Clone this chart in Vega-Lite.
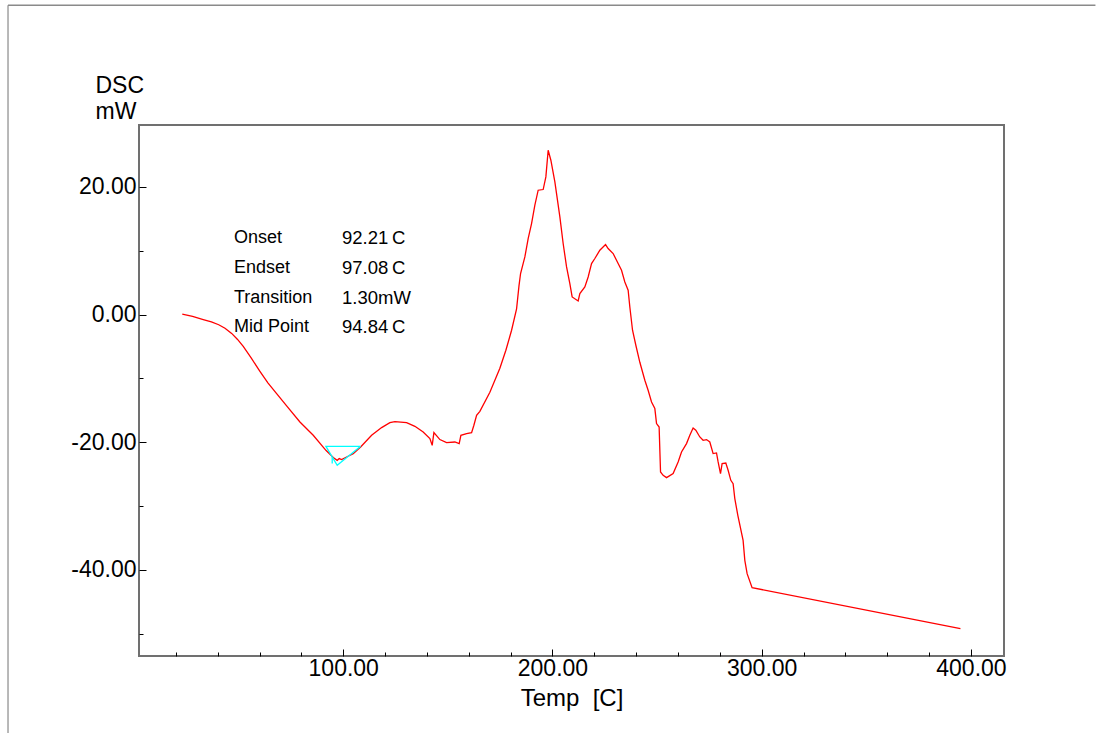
{
  "$schema": "https://vega.github.io/schema/vega-lite/v6.json",
  "width": 865,
  "height": 531,
  "autosize": {"type": "none"},
  "padding": {"left": 139, "top": 125, "right": 92, "bottom": 77},
  "background": "white",
  "config": {
    "view": {"stroke": "#707070", "strokeWidth": 2},
    "font": "Liberation Sans"
  },
  "datasets": {
    "dsc": [
      {"T": 23.08, "mW": 0.05}, {"T": 28.0, "mW": -0.3}, {"T": 33.11, "mW": -0.78}, {"T": 37.0, "mW": -1.15},
      {"T": 40.5, "mW": -1.6}, {"T": 43.5, "mW": -2.15}, {"T": 46.68, "mW": -2.95}, {"T": 49.5, "mW": -3.9},
      {"T": 52.22, "mW": -5.0}, {"T": 56.0, "mW": -6.8}, {"T": 60.2, "mW": -8.89}, {"T": 64.0, "mW": -10.7},
      {"T": 68.18, "mW": -12.4}, {"T": 72.96, "mW": -14.3},
      {"T": 79.31, "mW": -16.83}, {"T": 85.67, "mW": -18.92}, {"T": 91.73, "mW": -21.27}, {"T": 95.22, "mW": -22.41},
      {"T": 97.13, "mW": -22.84}, {"T": 98.09, "mW": -22.57}, {"T": 99.24, "mW": -22.73}, {"T": 101.62, "mW": -22.32},
      {"T": 104.78, "mW": -21.79}, {"T": 108.31, "mW": -20.75}, {"T": 113.57, "mW": -18.92}, {"T": 118.35, "mW": -17.71},
      {"T": 122.31, "mW": -16.93}, {"T": 124.7, "mW": -16.77}, {"T": 130.29, "mW": -16.93}, {"T": 134.26, "mW": -17.51},
      {"T": 138.22, "mW": -18.4}, {"T": 141.42, "mW": -19.44}, {"T": 142.52, "mW": -20.49}, {"T": 143.34, "mW": -18.5},
      {"T": 146.2, "mW": -19.59}, {"T": 149.4, "mW": -20.06}, {"T": 153.37, "mW": -19.97}, {"T": 155.42, "mW": -20.22},
      {"T": 156.24, "mW": -18.92}, {"T": 158.96, "mW": -18.65}, {"T": 161.35, "mW": -18.5}, {"T": 162.45, "mW": -17.35},
      {"T": 163.74, "mW": -15.78}, {"T": 165.31, "mW": -15.16}, {"T": 170.09, "mW": -12.18}, {"T": 174.87, "mW": -8.42},
      {"T": 177.74, "mW": -5.6}, {"T": 180.46, "mW": -2.46}, {"T": 182.85, "mW": 0.9}, {"T": 184.0, "mW": 4.5}, {"T": 184.76, "mW": 6.43},
      {"T": 186.81, "mW": 9.03}, {"T": 188.39, "mW": 11.91}, {"T": 190.01, "mW": 14.26}, {"T": 191.59, "mW": 17.13},
      {"T": 193.17, "mW": 19.48}, {"T": 195.56, "mW": 19.59}, {"T": 196.85, "mW": 21.57}, {"T": 197.95, "mW": 25.75},
      {"T": 199.24, "mW": 24.18}, {"T": 201.15, "mW": 20.78}, {"T": 203.54, "mW": 15.3}, {"T": 205.11, "mW": 11.13},
      {"T": 206.74, "mW": 7.46}, {"T": 208.31, "mW": 4.86}, {"T": 209.41, "mW": 2.76}, {"T": 212.28, "mW": 2.13},
      {"T": 213.09, "mW": 3.29}, {"T": 215.48, "mW": 4.33}, {"T": 217.06, "mW": 5.89}, {"T": 218.68, "mW": 7.99},
      {"T": 220.26, "mW": 8.78}, {"T": 222.65, "mW": 10.08}, {"T": 225.37, "mW": 10.97}, {"T": 226.61, "mW": 10.34},
      {"T": 229.0, "mW": 9.56}, {"T": 231.39, "mW": 7.99}, {"T": 233.01, "mW": 6.94}, {"T": 234.59, "mW": 5.11},
      {"T": 236.17, "mW": 3.81}, {"T": 236.98, "mW": 1.19}, {"T": 238.27, "mW": -2.46}, {"T": 239.85, "mW": -4.81},
      {"T": 241.76, "mW": -7.48}, {"T": 244.15, "mW": -10.3}, {"T": 245.72, "mW": -11.87}, {"T": 247.35, "mW": -13.7},
      {"T": 248.93, "mW": -14.73}, {"T": 249.74, "mW": -17.08}, {"T": 250.98, "mW": -17.62}, {"T": 251.65, "mW": -24.67},
      {"T": 252.89, "mW": -25.19}, {"T": 254.52, "mW": -25.55}, {"T": 257.67, "mW": -24.92}, {"T": 260.06, "mW": -23.1},
      {"T": 261.68, "mW": -21.54}, {"T": 264.07, "mW": -20.22}, {"T": 265.65, "mW": -18.92}, {"T": 267.22, "mW": -17.77},
      {"T": 268.51, "mW": -18.13}, {"T": 270.43, "mW": -19.18}, {"T": 272.0, "mW": -19.7}, {"T": 273.63, "mW": -19.59},
      {"T": 275.2, "mW": -19.97}, {"T": 276.78, "mW": -21.79}, {"T": 278.4, "mW": -21.69}, {"T": 279.17, "mW": -23.1},
      {"T": 280.31, "mW": -24.92}, {"T": 281.08, "mW": -23.35}, {"T": 282.85, "mW": -23.26}, {"T": 283.95, "mW": -24.4},
      {"T": 285.24, "mW": -25.97}, {"T": 286.34, "mW": -26.49}, {"T": 287.15, "mW": -28.84}, {"T": 288.59, "mW": -31.46},
      {"T": 291.11, "mW": -35.38}, {"T": 291.93, "mW": -38.51}, {"T": 293.03, "mW": -40.6}, {"T": 295.41, "mW": -42.79},
      {"T": 394.98, "mW": -49.22}
    ],
    "marker": [
      {"T": 108.31, "mW": -20.64, "seg": "a", "o": 1},
      {"T": 91.73, "mW": -20.64, "seg": "a", "o": 2},
      {"T": 97.13, "mW": -23.62, "seg": "a", "o": 3},
      {"T": 108.31, "mW": -20.64, "seg": "a", "o": 4},
      {"T": 94.74, "mW": -22.32, "seg": "b", "o": 1},
      {"T": 94.74, "mW": -23.35, "seg": "b", "o": 2}
    ],
    "one": [{}]
  },
  "layer": [
    {
      "data": {"name": "one"},
      "mark": {"type": "rule", "color": "#8a8a8a", "strokeWidth": 1.5, "clip": false},
      "encoding": {
        "x": {"datum": -60.2, "type": "quantitative", "scale": {"domain": [2.4, 415.8], "nice": false, "zero": false}},
        "x2": {"datum": 459.5},
        "y": {"datum": 48.48, "type": "quantitative", "scale": {"domain": [-53.5, 29.7], "nice": false, "zero": false}}
      }
    },
    {
      "data": {"name": "one"},
      "mark": {"type": "rule", "color": "#8a8a8a", "strokeWidth": 1.2, "clip": false},
      "encoding": {
        "x": {"datum": -60.2, "type": "quantitative"},
        "y": {"datum": 48.48, "type": "quantitative"},
        "y2": {"datum": -65.6}
      }
    },
    {
      "data": {"name": "dsc"},
      "mark": {"type": "line", "color": "#ff0000", "strokeWidth": 1.3},
      "encoding": {
        "x": {
          "field": "T", "type": "quantitative",
          "scale": {"domain": [2.4, 415.8], "nice": false, "zero": false},
          "axis": {
            "title": "Temp\u00a0\u00a0[C]",
            "values": [20, 40, 60, 80, 100, 120, 140, 160, 180, 200, 220, 240, 260, 280, 300, 320, 340, 360, 380, 400],
            "labelExpr": "datum.value % 100 === 0 ? format(datum.value, '.2f') : ''",
            "domain": false, "grid": false,
            "tickColor": "#000000", "tickWidth": 1,
            "tickSize": {"condition": {"test": "datum.value % 100 === 0", "value": -7}, "value": -4},
            "labelFont": "Liberation Sans", "labelFontSize": 23, "labelColor": "#000000",
            "labelPadding": 8,
            "titleFont": "Liberation Sans", "titleFontSize": 24, "titleFontWeight": "normal", "titleColor": "#000000",
            "titlePadding": 6
          }
        },
        "y": {
          "field": "mW", "type": "quantitative",
          "scale": {"domain": [-53.5, 29.7], "nice": false, "zero": false},
          "axis": {
            "title": ["DSC", "mW"],
            "titleAngle": 0, "titleAlign": "left", "titleBaseline": "alphabetic",
            "titleX": -44, "titleY": -33, "titleLineHeight": 26,
            "titleFont": "Liberation Sans", "titleFontSize": 23, "titleFontWeight": "normal", "titleColor": "#000000",
            "values": [-50, -45, -40, -35, -30, -25, -20, -15, -10, -5, 0, 5, 10, 15, 20, 25],
            "labelExpr": "datum.value % 20 === 0 ? (datum.value < 0 ? '-' : '') + format(abs(datum.value), '.2f') : ''",
            "domain": false, "grid": false,
            "tickColor": "#000000", "tickWidth": 1,
            "tickSize": {"condition": {"test": "datum.value % 20 === 0", "value": -7}, "value": -4},
            "labelFont": "Liberation Sans", "labelFontSize": 23, "labelColor": "#000000",
            "labelPadding": 10
          }
        }
      }
    },
    {
      "data": {"name": "marker"},
      "mark": {"type": "line", "color": "#00ffff", "strokeWidth": 1.3},
      "encoding": {
        "x": {"field": "T", "type": "quantitative"},
        "y": {"field": "mW", "type": "quantitative"},
        "detail": {"field": "seg"},
        "order": {"field": "o"}
      }
    },
    {
      "data": {"name": "one"},
      "mark": {"type": "text", "align": "left", "baseline": "middle", "font": "Liberation Sans", "fontSize": 18, "lineHeight": 29.7, "color": "#000000",
        "text": ["Onset", "Endset", "Transition", "Mid Point"]},
      "encoding": {
        "x": {"datum": 47.8, "type": "quantitative"},
        "y": {"datum": 11.96, "type": "quantitative"}
      }
    },
    {
      "data": {"name": "one"},
      "mark": {"type": "text", "align": "left", "baseline": "middle", "font": "Liberation Sans", "fontSize": 18.5, "lineHeight": 29.7, "color": "#000000",
        "text": ["92.21\u2009C", "97.08\u2009C", "1.30mW", "94.84\u2009C"]},
      "encoding": {
        "x": {"datum": 99.4, "type": "quantitative"},
        "y": {"datum": 11.96, "type": "quantitative"}
      }
    }
  ]
}
